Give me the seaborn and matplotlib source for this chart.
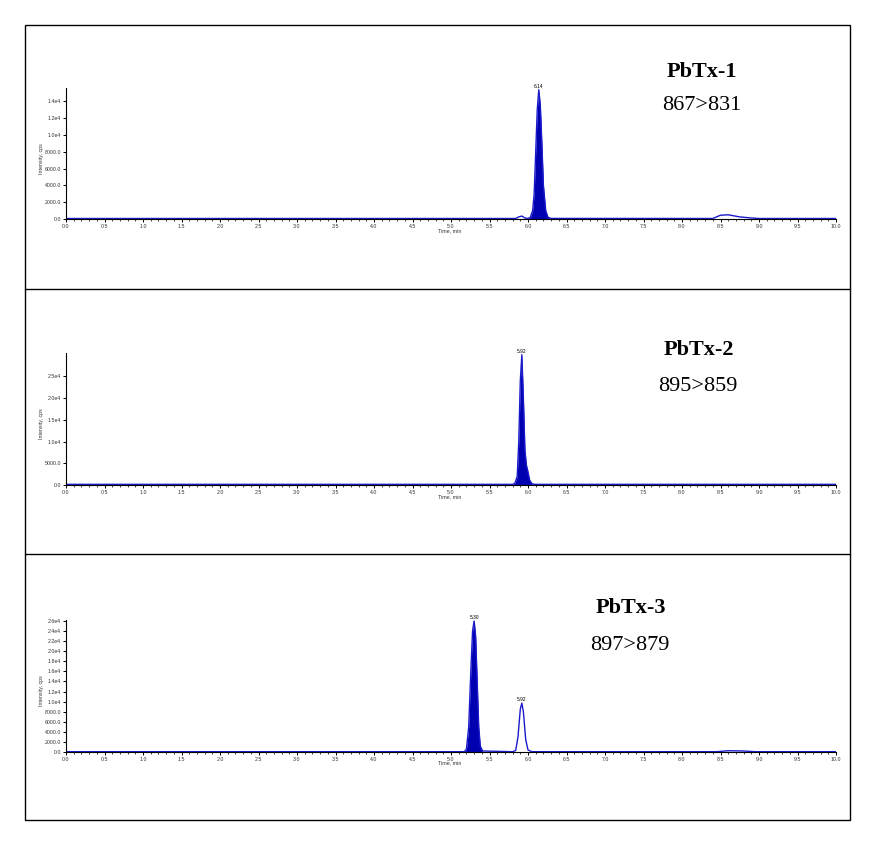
import numpy as np
import pandas as pd
import seaborn as sns
import matplotlib
matplotlib.use("Agg")
import matplotlib.pyplot as plt
from matplotlib.ticker import MultipleLocator, FixedLocator, FixedFormatter
from matplotlib.patches import Rectangle
from matplotlib.lines import Line2D

# ---------------- data ----------------
titles = ["PbTx-1", "PbTx-2", "PbTx-3"]
transitions = ["867>831", "895>859", "897>879"]

time1 = [0.0, 5.84, 5.88, 5.92, 5.96, 6.00, 6.03, 6.06, 6.08, 6.10, 6.12, 6.14, 6.16, 6.18, 6.20,
         6.23, 6.26, 6.30, 8.40, 8.50, 8.60, 8.75, 8.90, 9.00, 10.0]
inten1 = [60, 60, 250, 350, 120, 60, 200, 1000, 3000, 8000, 13000, 15400, 13500, 9000, 4000,
          1000, 200, 70, 60, 450, 500, 250, 120, 60, 60]

time2 = [0.0, 5.80, 5.83, 5.86, 5.88, 5.90, 5.92, 5.94, 5.96, 5.98, 6.00, 6.02, 6.05, 6.09, 10.0]
inten2 = [150, 150, 400, 2000, 10000, 24000, 30000, 20000, 8000, 4500, 3000, 1200, 300, 150, 150]

time3 = [0.0, 5.17, 5.20, 5.23, 5.26, 5.28, 5.30, 5.32, 5.34, 5.36, 5.38, 5.41, 5.80, 5.84,
         5.87, 5.90, 5.92, 5.94, 5.97, 6.00, 6.05, 8.45, 8.60, 8.80, 8.95, 10.0]
inten3 = [60, 60, 500, 5000, 17000, 24000, 26000, 23000, 14000, 5000, 1200, 200, 60, 300,
          3000, 8500, 9700, 8000, 2500, 400, 60, 60, 250, 200, 60, 60]

peak_labels = [["6.14"], ["5.92"], ["5.30", "5.92"]]
peak_times = [[6.14], [5.92], [5.30, 5.92]]
peak_heights = [[15400], [30000], [26000, 9700]]
filled_windows = [(6.00, 6.30), (5.80, 6.10), (5.15, 5.42)]

ytick_vals = [
    [0, 2000, 4000, 6000, 8000, 10000, 12000, 14000],
    [0, 5000, 10000, 15000, 20000, 25000],
    [0, 2000, 4000, 6000, 8000, 10000, 12000, 14000, 16000, 18000, 20000, 22000, 24000, 26000],
]
ytick_text = [
    ["0.0", "2000.0", "4000.0", "6000.0", "8000.0", "1.0e4", "1.2e4", "1.4e4"],
    ["0.0", "5000.0", "1.0e4", "1.5e4", "2.0e4", "2.5e4"],
    ["0.0", "2000.0", "4000.0", "6000.0", "8000.0", "1.0e4", "1.2e4", "1.4e4", "1.6e4",
     "1.8e4", "2.0e4", "2.2e4", "2.4e4", "2.6e4"],
]
ymax = [15600, 30400, 26200]

traces = [(time1, inten1), (time2, inten2), (time3, inten3)]

# ---------------- layout ----------------
W, H = 875, 859
sns.set_style("white")
plt.rcParams["font.family"] = ["Liberation Sans", "DejaVu Sans"]
plt.rcParams["text.color"] = "black"
fig = plt.figure(figsize=(W / 100, H / 100), dpi=100)

def fx(px):
    return px / W

def fy(py):
    return 1 - py / H

# outer frame and dividers
fig.add_artist(Rectangle((fx(25), fy(820)), fx(825), (820 - 25) / H, fill=False,
                         edgecolor="black", linewidth=1.0, transform=fig.transFigure))
for yy in (289, 554):
    fig.add_artist(Line2D([fx(25), fx(850)], [fy(yy), fy(yy)], color="black", linewidth=1.0,
                          transform=fig.transFigure))

axes_px = [(88, 219), (353, 485), (620, 752)]  # top, baseline
title_pos = [((702, 72), (702, 106)), ((699, 350), (698, 387)), ((631, 608), (630, 645))]
xlab_y = [231, 497, 763]

line_color = "#1a1acc"
fill_color = "#0000b0"

for k in range(3):
    top, base = axes_px[k]
    ax = fig.add_axes([fx(66), fy(base), fx(836) - fx(66), (base - top) / H])
    t, v = traces[k]
    df = pd.DataFrame({"time": t, "intensity": v})
    sns.lineplot(data=df, x="time", y="intensity", ax=ax, color=line_color, linewidth=1.0,
                 estimator=None, sort=False)
    lo, hi = filled_windows[k]
    sub = df[(df["time"] >= lo) & (df["time"] <= hi)]
    ax.fill_between(sub["time"], 0, sub["intensity"], color=fill_color, linewidth=0)

    for lab, pt, ph in zip(peak_labels[k], peak_times[k], peak_heights[k]):
        ax.text(pt, ph + ymax[k] * 0.005, lab, ha="center", va="bottom", fontsize=3.5, color="black")

    ax.set_xlim(0, 10)
    ax.set_ylim(0, ymax[k])
    ax.xaxis.set_major_locator(MultipleLocator(0.5))
    ax.xaxis.set_minor_locator(MultipleLocator(0.1))
    ax.xaxis.set_major_formatter(matplotlib.ticker.FormatStrFormatter("%.1f"))
    ax.yaxis.set_major_locator(FixedLocator(ytick_vals[k]))
    ax.yaxis.set_major_formatter(FixedFormatter(ytick_text[k]))
    ax.tick_params(axis="both", which="major", direction="out", length=2.5, width=0.7,
                   labelsize=3.8, pad=1, colors="black", labelcolor="#333333")
    ax.tick_params(axis="x", which="minor", direction="out", length=1.5, width=0.6, bottom=True)
    ax.tick_params(axis="x", bottom=True)
    ax.tick_params(axis="y", left=True)
    for s in ("top", "right"):
        ax.spines[s].set_visible(False)
    for s in ("left", "bottom"):
        ax.spines[s].set_color("black")
        ax.spines[s].set_linewidth(0.8)
    ax.set_xlabel("")
    ax.set_ylabel("")
    ax.patch.set_alpha(0)

    fig.text(fx(450), fy(xlab_y[k]), "Time, min", ha="center", va="center", fontsize=3.8,
             color="#333333")
    fig.text(fx(42), fy((top + base) / 2 + 5), "Intensity, cps", ha="center", va="center",
             rotation=90, fontsize=3.8, color="#333333")

    (tx, ty), (nx, ny) = title_pos[k]
    fig.text(fx(tx), fy(ty), titles[k], ha="center", va="center", fontsize=16,
             fontweight="bold", color="black", family=["Liberation Serif", "DejaVu Serif"])
    fig.text(fx(nx), fy(ny), transitions[k], ha="center", va="center", fontsize=16,
             color="black", family=["Liberation Serif", "DejaVu Serif"])

fig.savefig("out.png", dpi=100)
